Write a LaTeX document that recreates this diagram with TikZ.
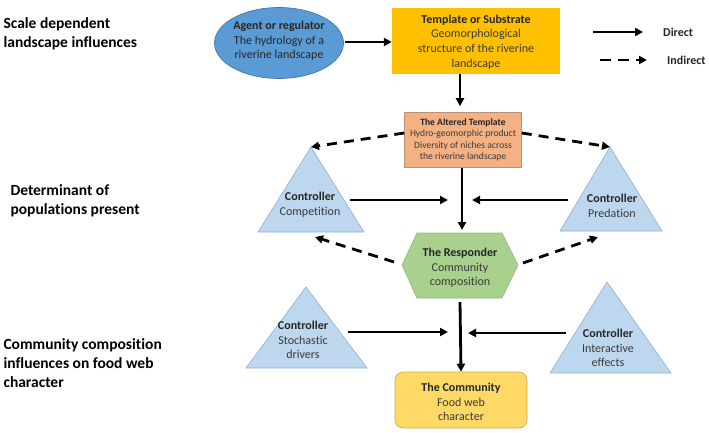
\documentclass[tikz,border=0pt]{standalone}
\usepackage{fontspec}
\setmainfont{Carlito}[Ligatures={NoCommon}]
\usetikzlibrary{arrows.meta,shapes.geometric}
\definecolor{agentblue}{HTML}{5B9BD5}
\definecolor{agentedge}{HTML}{41719C}
\definecolor{templ}{HTML}{FFC000}
\definecolor{altered}{HTML}{F4B183}
\definecolor{alteredge}{HTML}{B7937A}
\definecolor{tri}{HTML}{BDD7EE}
\definecolor{triedge}{HTML}{8FAFD3}
\definecolor{hexfill}{HTML}{A9D18E}
\definecolor{hexedge}{HTML}{8DB870}
\definecolor{comm}{HTML}{FFD966}
\definecolor{commedge}{HTML}{C9A94B}
\definecolor{txt}{HTML}{3A3A3A}
\begin{document}
\begin{tikzpicture}[x=1pt,y=-1pt,
  direct/.style={line width=2.8pt,-{Triangle[length=8pt,width=8pt]}},
  indirect/.style={line width=2.8pt,dash pattern=on 10pt off 7pt,-{Triangle[length=8pt,width=8pt]}},
  lbl/.style={anchor=west,align=left,font=\fontsize{15.5}{19}\selectfont\bfseries},
  body/.style={align=center,text=txt,font=\fontsize{12}{14.6}\selectfont,inner sep=0},
  small/.style={align=center,text=txt,font=\fontsize{9.6}{11.5}\selectfont,inner sep=0},
  trishape/.style={fill=tri,draw=triedge,line width=0.6pt}]
\useasboundingbox (0,0) rectangle (709,432);
% left labels
\node[lbl] (l1) at (0,34) {Scale dependent\\landscape influences};
\node[lbl] (l2) at (7,201) {Determinant of\\populations present};
\node[lbl] (l3) at (0,363) {Community composition\\influences on food web\\character};
% agent ellipse
\node[ellipse,fill=agentblue,draw=agentedge,line width=0.6pt,minimum width=129,minimum height=71,inner sep=0] (agent) at (279,43) {};
\node[body,text=black!85] (agentt) at (279,41) {\textbf{Agent or regulator}\\The hydrology of a\\riverine landscape};
% template
\node[fill=templ,minimum width=168,minimum height=66,inner sep=0] (templ) at (476,41) {};
\node[body] (templt) at (476,42) {\textbf{\color{black!85}Template or Substrate}\\Geomorphological\\structure of the riverine\\landscape};
% altered template
\node[fill=altered,draw=alteredge,line width=0.6pt,minimum width=117,minimum height=55,inner sep=0] (alt) at (463,140) {};
\node[small] (altt) at (463,140) {\textbf{\color{black!85}The Altered Template}\\Hydro-geomorphic product\\Diversity of niches across\\the riverine landscape};
% triangles
\draw[trishape] (311,147) -- (364,232) -- (258,232) -- cycle;
\coordinate (compapex) at (311,147);
\coordinate (compbl) at (315,237);
\node[body] (compt) at (310,205) {\textbf{\color{black!85}Controller}\\Competition};
\draw[trishape] (610,147) -- (662,231) -- (560,231) -- cycle;
\coordinate (predapex) at (610,147);
\coordinate (predbl) at (598,237);
\node[body] (predt) at (612,206) {\textbf{\color{black!85}Controller}\\Predation};
\draw[trishape] (306,287) -- (367,368) -- (246,368) -- cycle;
\node[body] (stocht) at (303,340) {\textbf{\color{black!85}Controller}\\Stochastic\\drivers};
\draw[trishape] (607,282) -- (671,373) -- (550,373) -- cycle;
\node[body] (intt) at (608,348) {\textbf{\color{black!85}Controller}\\Interactive\\effects};
% responder hexagon
\draw[fill=hexfill,draw=hexedge,line width=0.6pt] (402,265) -- (417,233) -- (502,233) -- (518,265) -- (502,298) -- (417,298) -- cycle;
\node[body] (resp) at (460,268) {\textbf{\color{black!85}The Responder}\\Community\\composition};
\coordinate (respL) at (394,262);
\coordinate (respR) at (523,263);
\coordinate (respB) at (460,302);
\coordinate (respT) at (462,230);
% community
\node[fill=comm,draw=commedge,line width=0.6pt,rounded corners=8pt,minimum width=132,minimum height=56,inner sep=0] (comm) at (461,400) {};
\node[body] (commt) at (461,402) {\textbf{\color{black!85}The Community}\\Food web\\character};
% arrows
\draw[direct] (agent.east) ++(1,-1) coordinate (ae) -- (templ.west|-ae);
\draw[direct] (templ.south -| alt.north) ++(-3,0) -- ++(0,32);
\draw[indirect] (alt.west) ++(0,-7) -- (compapex);
\draw[indirect] (alt.east) ++(0,-7) -- (predapex);
\draw[direct] (alt.south) ++(-1,0) -- (respT);
\coordinate (cA) at (448,200);
\coordinate (cB) at (472,200);
\draw[direct] (350,200) coordinate (compR) -- (cA);
\draw[direct] (568,200) coordinate (predL) -- (cB);
\draw[indirect] (respL) -- (compbl);
\draw[indirect] (respR) -- (predbl);
\draw[direct] (respB) -- (comm.north);
\coordinate (cC) at (448,332);
\coordinate (cD) at (468,333);
\draw[direct] (348,332) coordinate (stochR) -- (cC);
\draw[direct] (566,333) coordinate (intL) -- (cD);
% legend
\coordinate (ld1) at (593,32);
\coordinate (ld2) at (643,32);
\coordinate (li1) at (600,60);
\coordinate (li2) at (647,60);
\draw[direct] (ld1) -- (ld2);
\draw[indirect,dash pattern=on 11pt off 7pt] (li1) -- (li2);
\node[anchor=west,font=\fontsize{12}{14}\selectfont\bfseries,text=black!85,inner sep=0] (dlab) at (663,32) {Direct};
\node[anchor=west,font=\fontsize{12}{14}\selectfont\bfseries,text=black!85,inner sep=0] (ilab) at (667,60) {Indirect};
\end{tikzpicture}
\end{document}
